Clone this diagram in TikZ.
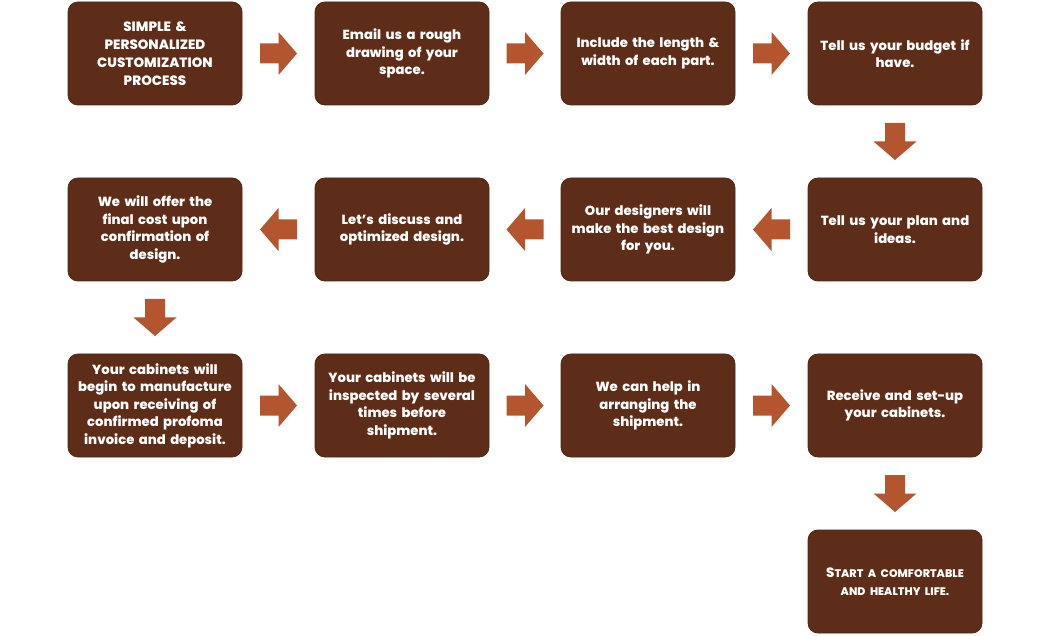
\documentclass[tikz,border=0pt]{standalone}
\usepackage{fontspec}
\setmainfont{Poppins}[BoldFont={Poppins ExtraBold}]
\usetikzlibrary{calc}
\definecolor{boxbrown}{HTML}{5E2D19}
\definecolor{boxedge}{HTML}{4E2414}
\definecolor{arrowbrown}{HTML}{B3562F}
\tikzset{
  stepbox/.style={rectangle, rounded corners=10pt, fill=boxbrown, draw=boxedge, line width=0.8pt,
    minimum width=174pt, minimum height=103pt, inner sep=2pt, text width=170pt, align=center,
    text=white, font=\fontsize{13.2}{17.5}\selectfont\bfseries},
  headbox/.style={stepbox, font=\fontsize{13.5}{18}\selectfont\bfseries},
  blockarrow/.pic={\fill[arrowbrown] (-18.5,-10) -- (0,-10) -- (0,-21.5) -- (18.5,0)
     -- (0,21.5) -- (0,10) -- (-18.5,10) -- cycle;},
}
\begin{document}
\begin{tikzpicture}[x=1pt,y=-1pt]
\useasboundingbox (0,0) rectangle (1050,636);
% row 1
\node[headbox] (b1) at (155,53.5) {SIMPLE \&\\PERSONALIZED\\CUSTOMIZATION\\PROCESS};
\node[stepbox] (b2) at (402,53.5) {Email us a rough\\drawing of your\\space.};
\node[stepbox] (b3) at (648,53.5) {Include the length \&\\width of each part.};
\node[stepbox] (b4) at (895,53.5) {Tell us your budget if\\have.};
% row 2
\node[stepbox] (b5) at (895,229.5) {Tell us your plan and\\ideas.};
\node[stepbox] (b6) at (648,229.5) {Our designers will\\make the best design\\for you.};
\node[stepbox] (b7) at (402,229.5) {Let’s discuss and\\optimized design.};
\node[stepbox] (b8) at (155,229.5) {We will offer the\\final cost upon\\confirmation of\\design.};
% row 3
\node[stepbox] (b9) at (155,405.5) {Your cabinets will\\begin to manufacture\\upon receiving of\\confirmed profoma\\invoice and deposit.};
\node[stepbox] (b10) at (402,405.5) {Your cabinets will be\\inspected by several\\times before\\shipment.};
\node[stepbox] (b11) at (648,405.5) {We can help in\\arranging the\\shipment.};
\node[stepbox] (b12) at (895,405.5) {Receive and set-up\\your cabinets.};
% row 4
\node[stepbox, font=\fontsize{13.5}{18}\selectfont\bfseries] (b13) at (895,581.5) {S{\fontsize{11}{18}\selectfont TART A COMFORTABLE}\\{\fontsize{11}{18}\selectfont AND HEALTHY LIFE.}};
% arrows
\pic (a1) at ($(b1.east)!0.5!(b2.west)$) {blockarrow};
\pic (a2) at ($(b2.east)!0.5!(b3.west)$) {blockarrow};
\pic (a3) at ($(b3.east)!0.5!(b4.west)$) {blockarrow};
\pic[rotate=-90] (a4) at ($(b4.south)!0.5!(b5.north)$) {blockarrow};
\pic[rotate=180] (a5) at ($(b5.west)!0.5!(b6.east)$) {blockarrow};
\pic[rotate=180] (a6) at ($(b6.west)!0.5!(b7.east)$) {blockarrow};
\pic[rotate=180] (a7) at ($(b7.west)!0.5!(b8.east)$) {blockarrow};
\pic[rotate=-90] (a8) at ($(b8.south)!0.5!(b9.north)$) {blockarrow};
\pic (a9) at ($(b9.east)!0.5!(b10.west)$) {blockarrow};
\pic (a10) at ($(b10.east)!0.5!(b11.west)$) {blockarrow};
\pic (a11) at ($(b11.east)!0.5!(b12.west)$) {blockarrow};
\pic[rotate=-90] (a12) at ($(b12.south)!0.5!(b13.north)$) {blockarrow};
\end{tikzpicture}
\end{document}
